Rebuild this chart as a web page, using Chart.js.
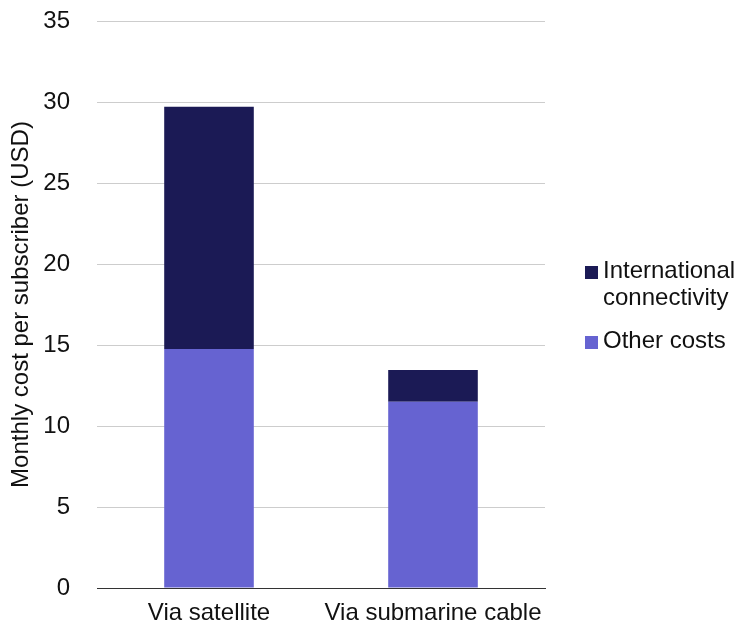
<!DOCTYPE html>
<html>
<head>
<meta charset="utf-8">
<script src="https://cdn.jsdelivr.net/npm/chart.js@4/dist/chart.umd.min.js"></script>
<style>
  html, body { margin: 0; padding: 0; background: #fff; }
  #wrap { position: relative; width: 736px; height: 630px; }
  #legend {
    position: absolute; left: 585px; top: 256px;
    font-family: "Liberation Sans", Arial, sans-serif;
    font-size: 24px; line-height: 27px; color: #111;
  }
  .item { position: relative; padding-left: 18px; margin-bottom: 16px; white-space: nowrap; }
  .box { position: absolute; left: 0; top: 10px; width: 13px; height: 13px; }
</style>
</head>
<body>
<div id="wrap">
  <canvas id="costChart" width="736" height="630"></canvas>
  <div id="legend"></div>
</div>
<script>
const categories = ["Via satellite", "Via submarine cable"];
const otherCosts = [14.75, 11.5];
const intlConnectivity = [14.95, 1.95];
const yMax = 35;
const yStep = 5;

const fontFamily = "'Liberation Sans', Arial, sans-serif";

const chart = new Chart(document.getElementById("costChart").getContext("2d"), {
    type: "bar",
    data: {
        labels: categories,
        datasets: [
            {
                label: "Other costs",
                data: otherCosts,
                backgroundColor: "#6663d1"
            },
            {
                label: ["International", "connectivity"],
                data: intlConnectivity,
                backgroundColor: "#1b1a55"
            }
        ]
    },
    options: {
        responsive: false,
        animation: false,
        layout: { padding: { top: 21, right: 191, left: 0, bottom: 0 } },
        plugins: {
            legend: { display: false },
            tooltip: { enabled: false }
        },
        datasets: {
            bar: { categoryPercentage: 1, barPercentage: 0.4 }
        },
        scales: {
            x: {
                stacked: true,
                grid: { display: false, drawTicks: false },
                border: { display: true, color: "#333", width: 1 },
                ticks: { color: "#111", padding: 11, font: { family: fontFamily, size: 24 } },
                afterFit: (scale) => { scale.height = 42; }
            },
            y: {
                stacked: true,
                min: 0,
                max: yMax,
                ticks: {
                    stepSize: yStep,
                    color: "#111",
                    padding: 27,
                    font: { family: fontFamily, size: 24 }
                },
                grid: { color: "#cdcdcd", lineWidth: 1, drawTicks: false },
                border: { display: false },
                title: {
                    display: true,
                    text: "Monthly cost per subscriber (USD)",
                    color: "#111",
                    padding: { top: 7, bottom: 0 },
                    font: { family: fontFamily, size: 24 }
                },
                // fixed axis width; the tick padding should not push the plot down
                afterFit: (scale) => {
                    scale.width = 97;
                    scale.paddingTop = 0;
                    scale.paddingBottom = 0;
                }
            }
        }
    }
});

// legend on the right, top series first
const legendEl = document.getElementById("legend");
chart.data.datasets.slice().reverse().forEach((ds) => {
    const item = document.createElement("div");
    item.className = "item";
    const box = document.createElement("span");
    box.className = "box";
    box.style.background = ds.backgroundColor;
    item.appendChild(box);
    const lines = Array.isArray(ds.label) ? ds.label : [ds.label];
    lines.forEach((line, i) => {
        if (i > 0) item.appendChild(document.createElement("br"));
        item.appendChild(document.createTextNode(line));
    });
    legendEl.appendChild(item);
});
</script>
</body>
</html>
